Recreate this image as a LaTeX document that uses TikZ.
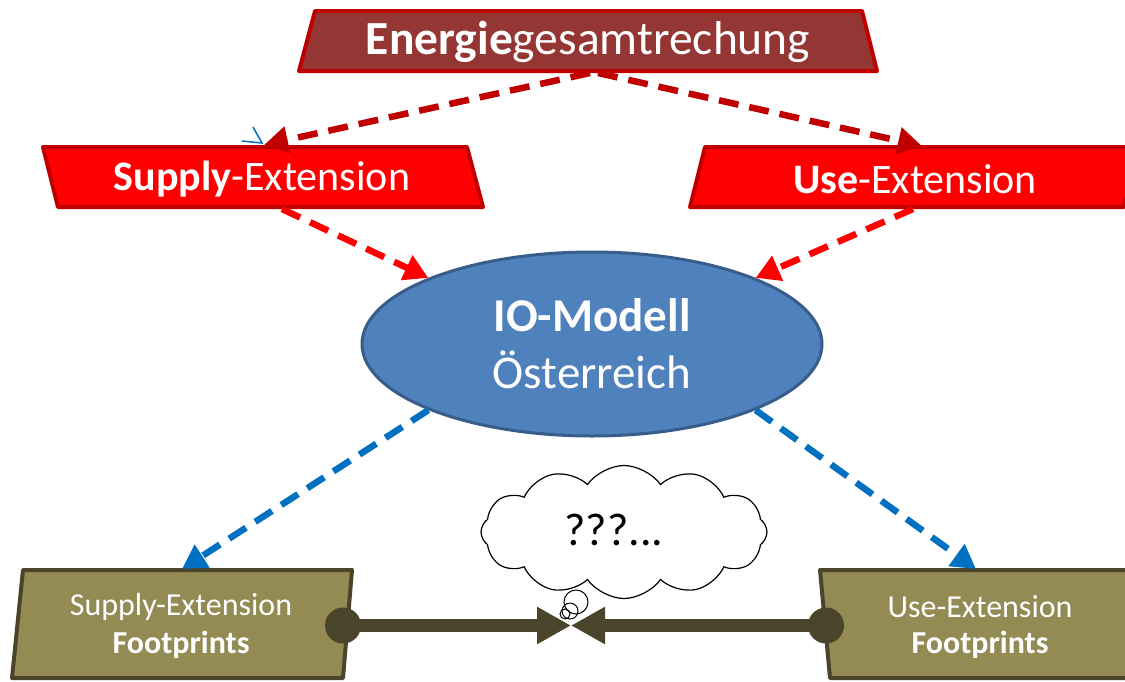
\documentclass[tikz,border=0pt]{standalone}
\usepackage{fontspec}
\setmainfont{Carlito}
\usetikzlibrary{shapes.geometric,shapes.symbols,arrows.meta}
\definecolor{egfill}{HTML}{943634}
\definecolor{redborder}{HTML}{C00000}
\definecolor{brightred}{HTML}{FF0000}
\definecolor{iofill}{HTML}{4F81BD}
\definecolor{ioborder}{HTML}{385D8A}
\definecolor{arrblue}{HTML}{0070C0}
\definecolor{olivefill}{HTML}{948A54}
\definecolor{oliveborder}{HTML}{4A452A}
\tikzset{
  boxline/.style={line width=4pt, line join=round},
  bigtext/.style={text=white, font=\fontsize{42}{48}\selectfont, inner sep=0pt},
  smalltext/.style={text=white, font=\fontsize{32}{36}\selectfont, inner sep=0pt},
  dasharrow/.style={line width=6.5pt, dash pattern=on 20pt off 11pt,
    -{Triangle[length=24pt,width=26pt]}},
  solidarrow/.style={line width=13pt, oliveborder, -{Triangle[length=34pt,width=35pt]}},
  bubble/.style={circle, draw=black, line width=1pt, inner sep=0pt}
}
\begin{document}
\begin{tikzpicture}[x=1pt,y=-1pt]
\useasboundingbox (0,0) rectangle (1125,681);
% top box
\draw[boxline, draw=redborder, fill=egfill] (315,11) -- (862,11) -- (877,71) -- (299,71) -- cycle;
\node[bigtext, font=\fontsize{47.5}{52}\selectfont] (eg) at (588,42) {\textbf{Energie}gesamtrechung};
% supply extension
\draw[boxline, draw=redborder, fill=brightred] (43,147) -- (467,147) -- (483,207) -- (58,207) -- cycle;
\node[bigtext] (se) at (262,179) {\textbf{Supply}-Extension};
% use extension
\draw[boxline, draw=redborder, fill=brightred] (705,147) -- (1140,147) -- (1124,207) -- (690,207) -- cycle;
\node[bigtext] (ue) at (915,179) {\textbf{Use}-Extension};
% IO model
\node[ellipse, draw=ioborder, fill=iofill, line width=3pt, minimum width=460pt, minimum height=184pt,
      text=white, font=\fontsize{47}{57}\selectfont, align=center] (io) at (592,344)
      {\textbf{IO-Modell}\\Österreich};
% footprint boxes
\draw[boxline, draw=oliveborder, fill=olivefill] (23,570) -- (352,570) -- (343,678) -- (12,678) -- cycle;
\node[smalltext] (sf1) at (181,607) {Supply-Extension};
\node[smalltext] (sf2) at (181,645) {\textbf{Footprints}};
\draw[boxline, draw=oliveborder, fill=olivefill] (820,570) -- (1140,570) -- (1140,678) -- (830,678) -- cycle;
\node[smalltext] (uf1) at (980,607) {Use-Extension};
\node[smalltext] (uf2) at (980,645) {\textbf{Footprints}};
% coordinates
\coordinate (egL) at (590,73);
\coordinate (egR) at (598,73);
\coordinate (seTop) at (264,145);
\coordinate (ueTop) at (922,146);
\coordinate (seBot) at (282,209);
\coordinate (ueBot) at (913,209);
\coordinate (sfTop) at (182,569);
\coordinate (ufTop) at (976,569);
\coordinate (meet) at (571,625.5);
% dashed arrows
\draw[dasharrow, redborder] (egL) -- (seTop);
\draw[dasharrow, redborder] (egR) -- (ueTop);
\draw[dasharrow, brightred] (seBot) -- (io.158);
\draw[dasharrow, brightred] (ueBot) -- (io.22);
\draw[dasharrow, arrblue] (io.202) -- (sfTop);
\draw[dasharrow, arrblue] (io.338) -- (ufTop);
% small blue chevron
\coordinate (bc) at (262,143);
\draw[arrblue, line width=1.5pt] (253,127) -- (bc) -- (242,141);
% connectors
\node[circle, fill=oliveborder, minimum size=36pt, inner sep=0pt] (cl) at (343,625.5) {};
\node[circle, fill=oliveborder, minimum size=36pt, inner sep=0pt] (cr) at (826,625.5) {};
\draw[solidarrow] (cl.center) -- (meet);
\draw[solidarrow] (cr.center) -- (meet);
% cloud
\node[cloud, draw=black, fill=white, line width=1.2pt, cloud puffs=12, cloud puff arc=110, aspect=2.1,
      minimum width=286pt, minimum height=133pt, inner sep=0pt] (cloud) at (624,532) {};
\node[font=\fontsize{46}{50}\selectfont, inner sep=0pt] (q) at (614,530) {???...};
\node[bubble, minimum size=24pt] (b1) at (576,602) {};
\node[bubble, minimum size=16pt] (b2) at (570,611) {};
\node[bubble, minimum size=10pt] (b3) at (565,614) {};
\end{tikzpicture}
\end{document}
